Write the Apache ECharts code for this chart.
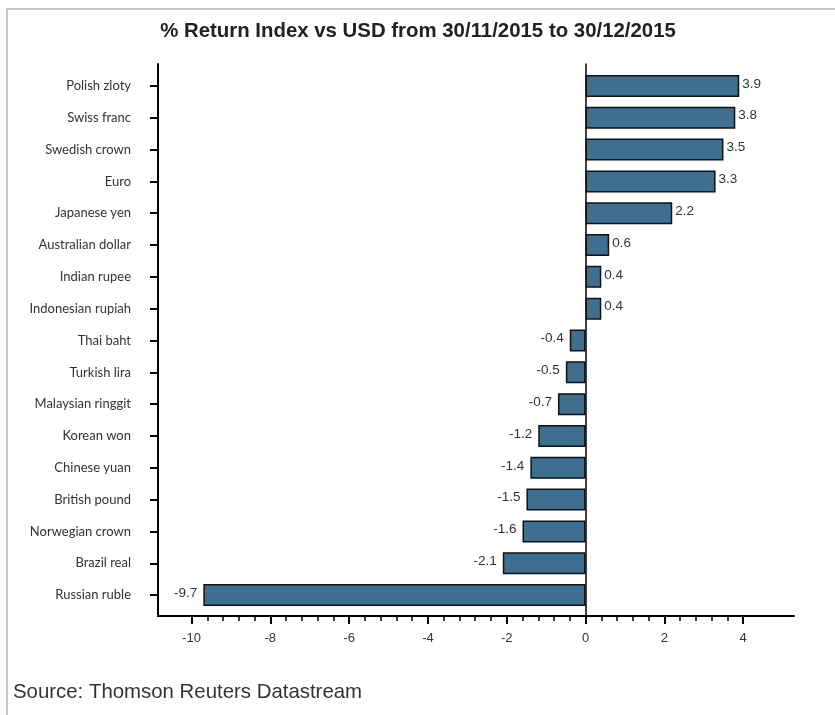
<!DOCTYPE html>
<html>
<head>
<meta charset="utf-8">
<script src="https://cdn.jsdelivr.net/npm/echarts@6/dist/echarts.min.js"></script>
<style>
html,body{margin:0;padding:0;background:#fff;}
#chart{width:835px;height:715px;}
</style>
</head>
<body>
<div id="chart"></div>
<script>
const titleText = '% Return Index vs USD from 30/11/2015 to 30/12/2015';
const sourceText = 'Source: Thomson Reuters Datastream';
const categories = ['Polish zloty','Swiss franc','Swedish crown','Euro','Japanese yen','Australian dollar','Indian rupee','Indonesian rupiah','Thai baht','Turkish lira','Malaysian ringgit','Korean won','Chinese yuan','British pound','Norwegian crown','Brazil real','Russian ruble'];
const values = [3.9,3.8,3.5,3.3,2.2,0.6,0.4,0.4,-0.4,-0.5,-0.7,-1.2,-1.4,-1.5,-1.6,-2.1,-9.7];
const xTickLabels = [-10,-8,-6,-4,-2,0,2,4];

const X_MIN = -10.85, X_MAX = 5.29;
const minorTicks = [];
for (let i = 0; i <= 35; i++) {
  const v = Math.round((-10 + i * 0.4) * 10) / 10;
  if (Math.abs(v % 2) > 1e-9) minorTicks.push(v);
}

const barData = values.map(v => ({
  value: v,
  label: { position: v < 0 ? 'left' : 'right', distance: v < 0 ? 6 : 3 }
}));

const chart = echarts.init(document.getElementById('chart'), null, {renderer: 'canvas'});
const axisColor = '#000';
chart.setOption({
  animation: false,
  backgroundColor: '#fff',
  title: {
    text: titleText,
    left: 413, top: 16, textAlign: 'center',
    textStyle: { fontFamily: "'Liberation Sans',Arial,sans-serif", fontWeight: 'bold', fontSize: 20.4, color: '#222' }
  },
  graphic: [
    { type: 'rect', shape: { x: 7, y: 9, width: 840, height: 720 }, style: { fill: 'none', stroke: '#c8c8c8', lineWidth: 2 }, silent: true },
    { type: 'text', left: 13, top: 682, style: { text: sourceText, fontFamily: "'Liberation Sans',Arial,sans-serif", fontSize: 20.4, fill: '#333' } }
  ],
  grid: [
    { left: 158, right: 41, top: 64, bottom: 99 },
    { left: 158, right: 41, top: 70, bottom: 104 }
  ],
  xAxis: [
    { type: 'value', gridIndex: 0, min: X_MIN, max: X_MAX, position: 'bottom',
      axisLine: { show: true, onZero: false, lineStyle: { color: axisColor, width: 2 } },
      axisTick: { show: true, customValues: xTickLabels, length: 8, lineStyle: { color: axisColor, width: 2 } },
      axisLabel: { show: true, customValues: xTickLabels, margin: 16, color: '#333', fontSize: 13,
        fontFamily: "'Liberation Sans Narrow','Liberation Sans',Arial,sans-serif" },
      splitLine: { show: false } },
    { type: 'value', gridIndex: 0, min: X_MIN, max: X_MAX, position: 'bottom',
      axisLine: { show: false, onZero: false },
      axisTick: { show: true, customValues: minorTicks, length: 5, lineStyle: { color: axisColor, width: 1.5 } },
      axisLabel: { show: false }, splitLine: { show: false } },
    { type: 'value', gridIndex: 1, min: X_MIN, max: X_MAX, show: false, splitLine: { show: false } }
  ],
  yAxis: [
    { type: 'value', gridIndex: 0, min: 0, max: 1, position: 'left',
      axisLine: { show: true, onZero: false, lineStyle: { color: axisColor, width: 2 } },
      axisTick: { show: false }, axisLabel: { show: false }, splitLine: { show: false } },
    { type: 'value', gridIndex: 0, min: 0, max: 1, position: 'left',
      axisLine: { show: true, onZero: true, onZeroAxisIndex: 0, lineStyle: { color: axisColor, width: 1.5 } },
      axisTick: { show: false }, axisLabel: { show: false }, splitLine: { show: false } },
    { type: 'category', gridIndex: 1, data: categories, inverse: true,
      axisLine: { show: false, onZero: false },
      axisTick: { show: true, alignWithLabel: true, length: 8, lineStyle: { color: axisColor, width: 2 } },
      axisLabel: { margin: 27, color: '#333', fontSize: 13, fontFamily: "Lato,'Open Sans',sans-serif" },
      splitLine: { show: false } }
  ],
  series: [{
    type: 'bar',
    xAxisIndex: 2, yAxisIndex: 2,
    data: barData,
    barWidth: 22,
    itemStyle: { color: '#3e6f91', borderColor: '#111', borderWidth: 1.5 },
    label: { show: true, color: '#333', fontSize: 13.5, fontFamily: "'Liberation Sans',Arial,sans-serif",
      offset: [0, -2], formatter: p => p.value.toFixed(1) }
  }]
});
</script>
</body>
</html>
